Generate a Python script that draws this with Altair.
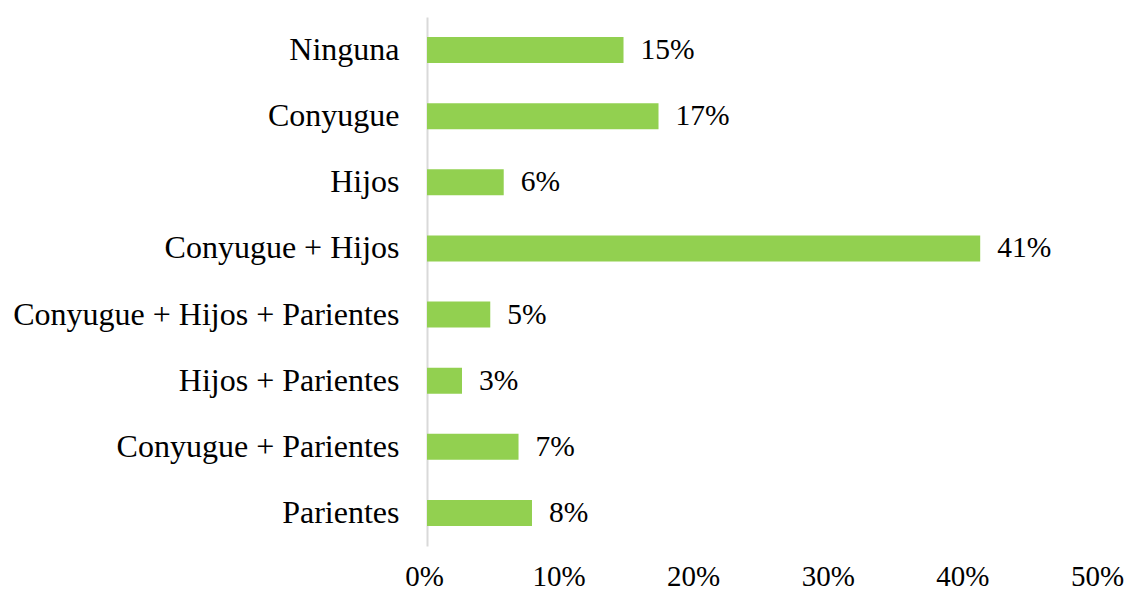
import altair as alt
import pandas as pd

categories = ["Ninguna", "Conyugue", "Hijos", "Conyugue + Hijos",
              "Conyugue + Hijos + Parientes", "Hijos + Parientes",
              "Conyugue + Parientes", "Parientes"]
values = [0.146, 0.172, 0.057, 0.411, 0.047, 0.026, 0.068, 0.078]
x_ticks = [0, 0.1, 0.2, 0.3, 0.4, 0.5]

df = pd.DataFrame({"cat": categories, "val": values})
FONT = "Liberation Serif"

y_enc = alt.Y("cat:N", sort=categories, title=None,
              scale=alt.Scale(paddingInner=0, paddingOuter=0),
              axis=alt.Axis(domain=True, domainColor="#D9D9D9", domainWidth=2,
                            ticks=False, labelPadding=28, labelFontSize=32,
                            labelLimit=0, labelFont=FONT, labelColor="#000000",
                            grid=False))
x_enc = alt.X("val:Q", title=None,
              scale=alt.Scale(domain=[0, 0.5]),
              axis=alt.Axis(values=x_ticks, format=".0%", domain=False, ticks=False,
                            grid=False, labelPadding=16, labelOffset=-3,
                            labelFlush=False, labelOverlap=False,
                            labelFontSize=29, labelFont=FONT, labelColor="#000000"))

base = alt.Chart(df).encode(x=x_enc, y=y_enc)
bars = base.mark_bar(color="#92D050", size=26)
labels = base.mark_text(align="left", baseline="middle", dx=17,
                        fontSize=29.5, font=FONT, color="#000000").encode(
    text=alt.Text("val:Q", format=".0%"))

chart = (bars + labels).properties(
    width=673, height=529,
    autosize=alt.AutoSizeParams(type="none"),
    padding={"left": 419, "top": 9, "right": 24, "bottom": 42},
).configure(background="white").configure_view(stroke="transparent", strokeWidth=0)

chart.save("out.html", embed_options={"renderer": "svg", "actions": False})
